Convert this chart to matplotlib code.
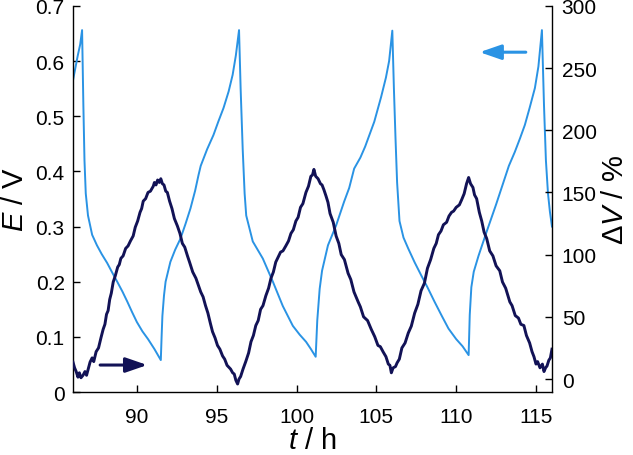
import matplotlib
matplotlib.use('Agg')
import matplotlib.pyplot as plt

# fonts: Arial look-alike, italic symbols via mathtext
plt.rcParams['font.family'] = 'Liberation Sans'
plt.rcParams['mathtext.fontset'] = 'custom'
plt.rcParams['mathtext.rm'] = 'Liberation Sans'
plt.rcParams['mathtext.it'] = 'Liberation Sans:italic'

LIGHT = '#2a93e4'
NAVY = '#121256'

# electrode potential E (left axis)
e_t = [86.0, 86.3, 86.45, 86.57, 86.65, 86.72, 86.8, 86.94, 87.2, 87.5, 87.8, 88.14, 88.45,
       88.77, 89.1, 89.4, 89.7, 90.0, 90.35, 90.7, 91.1, 91.5,
       91.55, 91.6, 91.7, 91.8, 92.1, 92.4, 92.73, 93.05, 93.36, 93.65, 93.86, 94.0, 94.4,
       94.8, 95.1, 95.43, 95.75, 96.0, 96.2, 96.4,
       96.5, 96.63, 96.75, 96.85, 97.26, 97.89, 98.52, 99.14, 99.77, 100.2, 100.6, 100.9, 101.2,
       101.3, 101.45, 101.6, 101.97, 102.48, 102.98, 103.3, 103.61, 104.0, 104.3, 104.87,
       105.3, 105.6, 105.8, 106.0,
       106.1, 106.2, 106.3, 106.45, 106.7, 107.0, 107.4, 107.82, 108.2, 108.64, 109.1, 109.52,
       110.0, 110.4, 110.78,
       110.85, 110.95, 111.1, 111.4, 111.9, 112.5, 112.9, 113.3, 113.67, 114.0, 114.3, 114.6,
       114.93, 115.15, 115.37,
       115.5, 115.62, 115.75, 115.87, 116.0]
e_val = [0.565, 0.61, 0.63, 0.656, 0.52, 0.42, 0.36, 0.32, 0.285, 0.266, 0.25, 0.234, 0.217,
         0.2, 0.182, 0.164, 0.145, 0.127, 0.11, 0.096, 0.078, 0.058,
         0.1, 0.138, 0.175, 0.2, 0.236, 0.258, 0.278, 0.305, 0.333, 0.365, 0.393, 0.41, 0.44,
         0.466, 0.49, 0.515, 0.545, 0.575, 0.61, 0.656,
         0.55, 0.44, 0.36, 0.32, 0.273, 0.242, 0.2, 0.156, 0.12, 0.104, 0.091, 0.078, 0.064,
         0.13, 0.187, 0.22, 0.266, 0.302, 0.345, 0.37, 0.405, 0.425, 0.445, 0.49,
         0.535, 0.57, 0.6, 0.655,
         0.55, 0.46, 0.38, 0.31, 0.28, 0.26, 0.235, 0.211, 0.19, 0.164, 0.138, 0.115,
         0.096, 0.083, 0.067,
         0.14, 0.19, 0.218, 0.247, 0.29, 0.34, 0.375, 0.41, 0.435, 0.46, 0.484, 0.515,
         0.551, 0.59, 0.656,
         0.52, 0.42, 0.36, 0.327, 0.30]

# volume change dV (right axis), noisy trace
dv_t = [86.0, 86.1, 86.2, 86.31, 86.4, 86.5, 86.63, 86.75, 86.85, 87.0, 87.07, 87.2, 87.3,
        87.45, 87.6, 87.75, 87.89, 88.0, 88.1, 88.2, 88.3, 88.4, 88.52, 88.65, 88.8, 88.9,
        89.0, 89.14, 89.3, 89.45, 89.6, 89.77, 89.9, 90.05, 90.2, 90.3, 90.4, 90.55, 90.7,
        90.85, 91.03, 91.1, 91.2, 91.3, 91.41, 91.5, 91.6,
        91.7, 91.81, 91.91, 92.05, 92.2, 92.35, 92.54, 92.7, 92.85, 93.0, 93.17, 93.3, 93.5,
        93.7, 93.86, 94.0, 94.15, 94.3, 94.45, 94.6, 94.74, 94.9, 95.05, 95.2, 95.37, 95.5,
        95.65, 95.87, 96.0, 96.1, 96.2, 96.31, 96.4, 96.5, 96.65, 96.82, 97.0, 97.15, 97.3,
        97.45, 97.6, 97.75, 97.9, 98.08, 98.25, 98.4, 98.55, 98.7, 98.85, 99.0, 99.15, 99.33,
        99.5, 99.65, 99.8, 99.96, 100.1, 100.25, 100.4, 100.59, 100.75, 100.9, 101.0, 101.09,
        101.2, 101.35, 101.5, 101.6, 101.72, 101.85, 101.97, 102.1, 102.3, 102.48, 102.65,
        102.8, 103.0, 103.23, 103.4, 103.6, 103.86, 104.0, 104.2, 104.45, 104.68, 104.9,
        105.1, 105.25, 105.43, 105.6, 105.75, 105.85, 105.94, 106.05, 106.2, 106.3, 106.44,
        106.6, 106.8, 107.0, 107.19, 107.4, 107.6, 107.8, 108.01, 108.2, 108.4, 108.6,
        108.75, 108.89, 109.05, 109.2, 109.4, 109.55, 109.71, 109.84, 110.0, 110.2, 110.34,
        110.5, 110.65, 110.78, 110.9, 111.05, 111.15, 111.28, 111.45, 111.6, 111.75, 111.91,
        112.1, 112.3, 112.5, 112.73, 112.9, 113.1, 113.36, 113.5, 113.7, 113.9, 114.05,
        114.24, 114.4, 114.6, 114.75, 114.87, 115.0, 115.1, 115.25, 115.4, 115.5, 115.6,
        115.69, 115.8, 115.9, 116.0]
dv_val = [13.6, 9, 6, 1.5, 5, 1, 3, 6, 3, 10, 13.6, 17, 14, 22, 25, 33, 40, 44, 52, 55, 64,
          69, 78, 83, 90, 92, 97, 99, 105, 107, 111, 115, 122, 127, 134, 137, 143, 145, 150,
          151, 155, 158, 156, 160, 158, 161, 157,
          156, 151, 150, 143, 137, 129, 123, 117, 109, 106, 99, 94, 86, 81, 75, 70, 66, 59,
          53, 45, 38, 33, 27, 24, 18.5, 16, 11, 8, 5, 4, -1, -4, 0, 2, 8, 14, 21, 30, 35,
          43, 47, 56, 59, 67, 73, 81, 86, 94, 98, 102, 103, 107, 111, 117, 120, 127, 130,
          138, 141, 150, 155, 163, 164, 168.5, 163, 161, 157, 156, 152, 147, 142, 133, 126,
          115, 109, 100, 96, 85, 80, 70, 62, 58, 50, 47, 40, 34, 27, 26, 21.7, 18, 12, 11,
          5, 9, 10, 13, 16, 25, 29, 37, 42.5, 53, 60, 71, 77, 89, 96, 105, 109, 116, 119,
          124, 126, 131, 134, 135, 138, 140, 144, 149, 157, 162, 157, 154, 148, 145, 134,
          127, 118, 113, 103, 99, 91, 87, 78, 73, 62, 59, 51, 49, 44, 43, 35, 29, 22, 18,
          12, 14, 9, 12, 6, 9, 10.5, 15, 17, 24]

# direction arrows: (start t, end t, height on left axis)
arrow_navy = [87.7, 90.65, 0.049]
arrow_light = [114.36, 111.47, 0.616]

e_ticks = [0, 0.1, 0.2, 0.3, 0.4, 0.5, 0.6, 0.7]
e_labels = ['0', '0.1', '0.2', '0.3', '0.4', '0.5', '0.6', '0.7']
dv_ticks = [0, 50, 100, 150, 200, 250, 300]
t_ticks = [90, 95, 100, 105, 110, 115]

fig = plt.figure(figsize=(6.33, 4.56), dpi=100)
ax = fig.add_axes([0.1153, 0.138, 0.7567, 0.847])
ax2 = ax.twinx()

ax.plot(e_t, e_val, color=LIGHT, lw=1.4)
ax2.plot(dv_t, dv_val, color=NAVY, lw=2.1)

head = '-|>,head_length=1.3,head_width=0.45'
ax.annotate('', xy=(arrow_navy[1], arrow_navy[2]), xytext=(arrow_navy[0], arrow_navy[2]),
            arrowprops=dict(arrowstyle=head, color=NAVY, lw=2.2, shrinkA=0, shrinkB=0))
ax.annotate('', xy=(arrow_light[1], arrow_light[2]), xytext=(arrow_light[0], arrow_light[2]),
            arrowprops=dict(arrowstyle=head, color=LIGHT, lw=2.2, shrinkA=0, shrinkB=0))

ax.set_xlim(86, 116)
ax.set_ylim(0, 0.7)
ax2.set_ylim(-10.5, 300)
ax.set_xticks(t_ticks)
ax.set_yticks(e_ticks)
ax.set_yticklabels(e_labels)
ax2.set_yticks(dv_ticks)

for a in (ax, ax2):
    a.spines['top'].set_visible(False)
    for s in a.spines.values():
        s.set_linewidth(1.0)
ax.spines['right'].set_visible(False)
ax2.spines['left'].set_visible(False)
ax2.spines['bottom'].set_visible(False)

ax.tick_params(axis='both', direction='in', length=5, width=1, labelsize=15)
ax.tick_params(axis='y', pad=6)
ax.tick_params(axis='x', pad=11)
ax2.tick_params(axis='y', direction='in', length=5, width=1, labelsize=15, pad=7)

ax.set_xlabel('$t$ / h', fontsize=21, labelpad=0)
ax.set_ylabel('$E$ / V', fontsize=21, labelpad=5)
ax2.set_ylabel('\u0394$V$ / %', fontsize=21, labelpad=3)

fig.savefig('out.png', dpi=100)
